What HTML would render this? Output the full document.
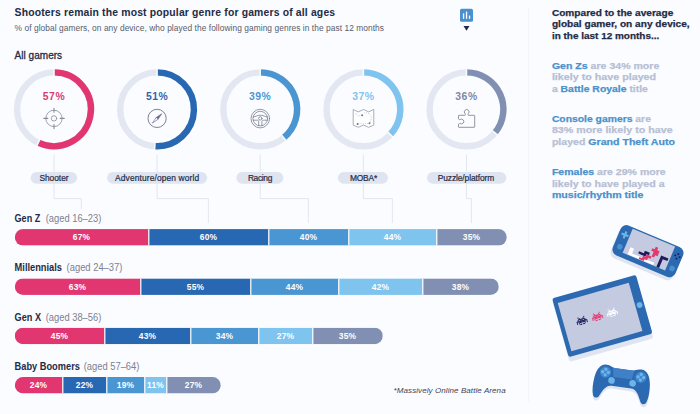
<!DOCTYPE html><html><head><meta charset="utf-8"><title>Gaming genres</title>
<style>html,body{margin:0;padding:0;background:#fbfcff;}body{width:700px;height:414px;overflow:hidden;font-family:"Liberation Sans",sans-serif;}svg{display:block;font-family:"Liberation Sans",sans-serif;}</style></head><body>
<svg width="700" height="414" viewBox="0 0 700 414">
<rect width="700" height="414" fill="#fbfcff"/>
<line x1="528.5" y1="7" x2="528.5" y2="402" stroke="#f3f5fb" stroke-width="1.5"/>
<text x="14.6" y="15.5" font-size="10.4" font-weight="bold" fill="#232b45" textLength="320.5" lengthAdjust="spacing">Shooters remain the most popular genre for gamers of all ages</text>
<text x="14.6" y="30.5" font-size="8.4" fill="#565c6c" textLength="369.4" lengthAdjust="spacing">% of global gamers, on any device, who played the following gaming genres in the past 12 months</text>
<text x="14.6" y="59.3" font-size="10" fill="#232b45" stroke="#232b45" stroke-width="0.3" textLength="47.5" lengthAdjust="spacing">All gamers</text>
<rect x="460" y="8.8" width="13" height="13" rx="1.6" fill="#4a90cf"/>
<rect x="462.9" y="13.4" width="1.3" height="5.4" fill="#fff"/><rect x="465.9" y="11.6" width="1.3" height="7.2" fill="#fff"/><rect x="468.9" y="15.6" width="1.3" height="3.2" fill="#fff"/>
<path d="M463.5 26 L469.5 26 L466.5 30.8 Z" fill="#232b45"/>
<circle cx="54.0" cy="109.3" r="36.9" fill="none" stroke="#e2e7f2" stroke-width="6.4"/>
<path d="M54.00 72.40 A36.9 36.9 0 1 1 38.29 142.69" fill="none" stroke="#e23670" stroke-width="6.4"/>
<line x1="54.00" y1="76.00" x2="54.00" y2="68.80" stroke="#fafbfe" stroke-width="1.5"/>
<line x1="39.82" y1="139.43" x2="36.76" y2="145.95" stroke="#fafbfe" stroke-width="1.5"/>
<text x="54.0" y="100.3" font-size="10.4" font-weight="bold" fill="#d93a70" text-anchor="middle" letter-spacing="0.5">57%</text>
<path d="M54.0 154.7 V198.6 H81.4 V209" fill="none" stroke="#e0e3ec" stroke-width="0.9"/>
<rect x="30.6" y="172.0" width="46.5" height="11.7" rx="5.85" fill="#dfe4f1"/>
<text x="39.4" y="181.0" font-size="8.4" fill="#232b45" stroke="#232b45" stroke-width="0.2" textLength="29.2" lengthAdjust="spacing">Shooter</text>
<circle cx="157.1" cy="109.3" r="36.9" fill="none" stroke="#e2e7f2" stroke-width="6.4"/>
<path d="M157.10 72.40 A36.9 36.9 0 1 1 154.78 146.13" fill="none" stroke="#2868b2" stroke-width="6.4"/>
<line x1="157.10" y1="76.00" x2="157.10" y2="68.80" stroke="#fafbfe" stroke-width="1.5"/>
<line x1="155.01" y1="142.53" x2="154.56" y2="149.72" stroke="#fafbfe" stroke-width="1.5"/>
<text x="157.1" y="100.3" font-size="10.4" font-weight="bold" fill="#2b66ad" text-anchor="middle" letter-spacing="0.5">51%</text>
<path d="M157.1 154.7 V198.6 H208.4 V223" fill="none" stroke="#e0e3ec" stroke-width="0.9"/>
<rect x="107.1" y="172.0" width="100.0" height="11.7" rx="5.85" fill="#dfe4f1"/>
<text x="115.1" y="181.0" font-size="8.4" fill="#232b45" stroke="#232b45" stroke-width="0.2" textLength="84.0" lengthAdjust="spacing">Adventure/open world</text>
<circle cx="260.2" cy="109.3" r="36.9" fill="none" stroke="#e2e7f2" stroke-width="6.4"/>
<path d="M260.20 72.40 A36.9 36.9 0 0 1 283.72 137.73" fill="none" stroke="#4a96d2" stroke-width="6.4"/>
<line x1="260.20" y1="76.00" x2="260.20" y2="68.80" stroke="#fafbfe" stroke-width="1.5"/>
<line x1="281.43" y1="134.96" x2="286.02" y2="140.51" stroke="#fafbfe" stroke-width="1.5"/>
<text x="260.2" y="100.3" font-size="10.4" font-weight="bold" fill="#4a96d2" text-anchor="middle" letter-spacing="0.5">39%</text>
<path d="M260.2 154.7 V198.6 H308.4 V223" fill="none" stroke="#e0e3ec" stroke-width="0.9"/>
<rect x="236.3" y="172.0" width="47.1" height="11.7" rx="5.85" fill="#dfe4f1"/>
<text x="247.9" y="181.0" font-size="8.4" fill="#232b45" stroke="#232b45" stroke-width="0.2" textLength="24.4" lengthAdjust="spacing">Racing</text>
<circle cx="363.4" cy="109.3" r="36.9" fill="none" stroke="#e2e7f2" stroke-width="6.4"/>
<path d="M363.40 72.40 A36.9 36.9 0 0 1 390.30 134.56" fill="none" stroke="#7ec4ef" stroke-width="6.4"/>
<line x1="363.40" y1="76.00" x2="363.40" y2="68.80" stroke="#fafbfe" stroke-width="1.5"/>
<line x1="387.67" y1="132.10" x2="392.92" y2="137.02" stroke="#fafbfe" stroke-width="1.5"/>
<text x="363.4" y="100.3" font-size="10.4" font-weight="bold" fill="#7ec4ef" text-anchor="middle" letter-spacing="0.5">37%</text>
<path d="M363.4 154.7 V198.6 H392.4 V223" fill="none" stroke="#e0e3ec" stroke-width="0.9"/>
<rect x="337.9" y="172.0" width="50.1" height="11.7" rx="5.85" fill="#dfe4f1"/>
<text x="349.9" y="181.0" font-size="8.4" fill="#232b45" stroke="#232b45" stroke-width="0.2" textLength="27.4" lengthAdjust="spacing">MOBA*</text>
<circle cx="466.5" cy="109.3" r="36.9" fill="none" stroke="#e2e7f2" stroke-width="6.4"/>
<path d="M466.50 72.40 A36.9 36.9 0 0 1 494.93 132.82" fill="none" stroke="#8190b2" stroke-width="6.4"/>
<line x1="466.50" y1="76.00" x2="466.50" y2="68.80" stroke="#fafbfe" stroke-width="1.5"/>
<line x1="492.16" y1="130.53" x2="497.71" y2="135.12" stroke="#fafbfe" stroke-width="1.5"/>
<text x="466.5" y="100.3" font-size="10.4" font-weight="bold" fill="#7d88a6" text-anchor="middle" letter-spacing="0.5">36%</text>
<path d="M466.5 154.7 V198.6 H471.4 V223" fill="none" stroke="#e0e3ec" stroke-width="0.9"/>
<rect x="427.0" y="172.0" width="79.3" height="11.7" rx="5.85" fill="#dfe4f1"/>
<text x="437.7" y="181.0" font-size="8.4" fill="#232b45" stroke="#232b45" stroke-width="0.2" textLength="56.6" lengthAdjust="spacing">Puzzle/platform</text>
<g fill="none" stroke="#858a96" stroke-width="0.8" stroke-linecap="round">
<circle cx="54.0" cy="118.4" r="8.2"/><circle cx="54.0" cy="118.4" r="2.7"/>
<path d="M54.0 108.2 V112.2 M54.0 124.60000000000001 V128.6 M43.8 118.4 H47.8 M60.2 118.4 H64.2" stroke-width="1.1"/>
</g>
<circle cx="157.1" cy="118.4" r="9.1" fill="none" stroke="#6d7288" stroke-width="0.9"/>
<g transform="translate(157.1 118.4) rotate(45)">
<path d="M0 -6.7 L1.3 0 L-1.3 0 Z" fill="#62678a" stroke="#62678a" stroke-width="0.5" stroke-linejoin="round"/>
<path d="M0 6.7 L1.3 0 L-1.3 0 Z" fill="#fff" stroke="#62678a" stroke-width="0.6" stroke-linejoin="round"/>
</g>
<g transform="translate(260.3 118.6)" fill="none" stroke="#7b8092" stroke-width="0.8" stroke-linecap="round" stroke-linejoin="round">
<circle r="9.3"/><circle r="7.3"/><circle r="1.7" cy="-0.2"/>
<path d="M-7.1 -1.6 C-4.5 -1.9 -3 -3.4 0 -3.4 C3 -3.4 4.5 -1.9 7.1 -1.6"/>
<path d="M-7.1 1.6 H-3 C-2 1.6 -1.6 2.2 -1.6 3.2 V7.1 M7.1 1.6 H3 C2 1.6 1.6 2.2 1.6 3.2 V7.1"/>
</g>
<g fill="none" stroke="#9a9fae" stroke-width="0.85" stroke-linejoin="round">
<path d="M353.2 109.5 L358.3 111.9 L363.6 109.5 L368.7 111.9 L373.8 109.4 V125.1 L368.7 127.3 L363.6 125.1 L358.3 127.3 L353.2 125.1 Z" fill="#fff"/>
<path d="M355.6 113 L357.8 116 L362 115.4 M364.4 112.8 C368 112.6 371.6 114.5 371.3 118.5 C371.2 120.5 370.3 122 369.5 123.2 M358 124 L369 123.4" stroke="#9096a8" stroke-width="0.6" stroke-dasharray="0.7 1.1"/>
</g>
<circle cx="362.2" cy="115.3" r="0.95" fill="#6f7486"/><circle cx="357.6" cy="124" r="0.95" fill="#6f7486"/><circle cx="369.5" cy="123.3" r="0.95" fill="#6f7486"/>
<path d="M458.9 115.3 H464.9 C465.6 115.3 465.5 114.3 465.1 113.6 A2.35 2.35 0 1 1 468.3 113.6 C467.9 114.3 467.8 115.3 468.5 115.3 H474.3 Q474.7 115.3 474.7 115.7 V126.9 Q474.7 127.3 474.3 127.3 H458.9 Q458.5 127.3 458.5 126.9 V124.4 C458.5 123.6 459.4 123.4 460.1 123.5 A2.4 2.4 0 1 0 460.1 119.5 C459.4 119.7 458.5 119.5 458.5 118.7 V115.7 Q458.5 115.3 458.9 115.3 Z" fill="none" stroke="#8a8f9b" stroke-width="0.95" stroke-linejoin="round"/>
<text x="14.6" y="221.9" font-size="10.2" font-weight="bold" fill="#232b45" textLength="25.6" lengthAdjust="spacingAndGlyphs">Gen Z</text>
<text x="45.7" y="221.9" font-size="10.2" fill="#7b8190" textLength="55.6" lengthAdjust="spacingAndGlyphs">(aged 16–23)</text>
<clipPath id="c0"><rect x="14.8" y="229.1" width="492" height="16.5" rx="8.25"/></clipPath>
<g clip-path="url(#c0)">
<rect x="14.8" y="229.1" width="134" height="16.5" fill="#e23670"/>
<rect x="148.8" y="229.1" width="120" height="16.5" fill="#2868b2"/>
<rect x="268.8" y="229.1" width="80" height="16.5" fill="#4a96d2"/>
<rect x="348.8" y="229.1" width="88" height="16.5" fill="#7ec4ef"/>
<rect x="436.8" y="229.1" width="70" height="16.5" fill="#8190b2"/>
<rect x="148.2" y="229.1" width="1.2" height="16.5" fill="#fff"/>
<rect x="268.2" y="229.1" width="1.2" height="16.5" fill="#fff"/>
<rect x="348.2" y="229.1" width="1.2" height="16.5" fill="#fff"/>
<rect x="436.2" y="229.1" width="1.2" height="16.5" fill="#fff"/>
</g>
<text x="81.5" y="240.3" font-size="8.4" font-weight="bold" fill="#fff" text-anchor="middle" letter-spacing="0.25">67%</text>
<text x="208.5" y="240.3" font-size="8.4" font-weight="bold" fill="#fff" text-anchor="middle" letter-spacing="0.25">60%</text>
<text x="308.5" y="240.3" font-size="8.4" font-weight="bold" fill="#fff" text-anchor="middle" letter-spacing="0.25">40%</text>
<text x="392.5" y="240.3" font-size="8.4" font-weight="bold" fill="#fff" text-anchor="middle" letter-spacing="0.25">44%</text>
<text x="471.5" y="240.3" font-size="8.4" font-weight="bold" fill="#fff" text-anchor="middle" letter-spacing="0.25">35%</text>
<text x="14.6" y="271.2" font-size="10.2" font-weight="bold" fill="#232b45" textLength="47.4" lengthAdjust="spacingAndGlyphs">Millennials</text>
<text x="66.6" y="271.2" font-size="10.2" fill="#7b8190" textLength="55.8" lengthAdjust="spacingAndGlyphs">(aged 24–37)</text>
<clipPath id="c1"><rect x="14.8" y="278.4" width="484" height="16.5" rx="8.25"/></clipPath>
<g clip-path="url(#c1)">
<rect x="14.8" y="278.4" width="126" height="16.5" fill="#e23670"/>
<rect x="140.8" y="278.4" width="110" height="16.5" fill="#2868b2"/>
<rect x="250.8" y="278.4" width="88" height="16.5" fill="#4a96d2"/>
<rect x="338.8" y="278.4" width="84" height="16.5" fill="#7ec4ef"/>
<rect x="422.8" y="278.4" width="76" height="16.5" fill="#8190b2"/>
<rect x="140.2" y="278.4" width="1.2" height="16.5" fill="#fff"/>
<rect x="250.2" y="278.4" width="1.2" height="16.5" fill="#fff"/>
<rect x="338.2" y="278.4" width="1.2" height="16.5" fill="#fff"/>
<rect x="422.2" y="278.4" width="1.2" height="16.5" fill="#fff"/>
</g>
<text x="77.5" y="289.6" font-size="8.4" font-weight="bold" fill="#fff" text-anchor="middle" letter-spacing="0.25">63%</text>
<text x="195.5" y="289.6" font-size="8.4" font-weight="bold" fill="#fff" text-anchor="middle" letter-spacing="0.25">55%</text>
<text x="294.5" y="289.6" font-size="8.4" font-weight="bold" fill="#fff" text-anchor="middle" letter-spacing="0.25">44%</text>
<text x="380.5" y="289.6" font-size="8.4" font-weight="bold" fill="#fff" text-anchor="middle" letter-spacing="0.25">42%</text>
<text x="460.5" y="289.6" font-size="8.4" font-weight="bold" fill="#fff" text-anchor="middle" letter-spacing="0.25">38%</text>
<text x="14.6" y="320.5" font-size="10.2" font-weight="bold" fill="#232b45" textLength="26.4" lengthAdjust="spacingAndGlyphs">Gen X</text>
<text x="45.7" y="320.5" font-size="10.2" fill="#7b8190" textLength="55.6" lengthAdjust="spacingAndGlyphs">(aged 38–56)</text>
<clipPath id="c2"><rect x="14.8" y="327.7" width="368" height="16.5" rx="8.25"/></clipPath>
<g clip-path="url(#c2)">
<rect x="14.8" y="327.7" width="90" height="16.5" fill="#e23670"/>
<rect x="104.8" y="327.7" width="86" height="16.5" fill="#2868b2"/>
<rect x="190.8" y="327.7" width="68" height="16.5" fill="#4a96d2"/>
<rect x="258.8" y="327.7" width="54" height="16.5" fill="#7ec4ef"/>
<rect x="312.8" y="327.7" width="70" height="16.5" fill="#8190b2"/>
<rect x="104.2" y="327.7" width="1.2" height="16.5" fill="#fff"/>
<rect x="190.2" y="327.7" width="1.2" height="16.5" fill="#fff"/>
<rect x="258.2" y="327.7" width="1.2" height="16.5" fill="#fff"/>
<rect x="312.2" y="327.7" width="1.2" height="16.5" fill="#fff"/>
</g>
<text x="59.5" y="338.9" font-size="8.4" font-weight="bold" fill="#fff" text-anchor="middle" letter-spacing="0.25">45%</text>
<text x="147.5" y="338.9" font-size="8.4" font-weight="bold" fill="#fff" text-anchor="middle" letter-spacing="0.25">43%</text>
<text x="224.5" y="338.9" font-size="8.4" font-weight="bold" fill="#fff" text-anchor="middle" letter-spacing="0.25">34%</text>
<text x="285.5" y="338.9" font-size="8.4" font-weight="bold" fill="#fff" text-anchor="middle" letter-spacing="0.25">27%</text>
<text x="347.5" y="338.9" font-size="8.4" font-weight="bold" fill="#fff" text-anchor="middle" letter-spacing="0.25">35%</text>
<text x="14.6" y="369.8" font-size="10.2" font-weight="bold" fill="#232b45" textLength="65.3" lengthAdjust="spacingAndGlyphs">Baby Boomers</text>
<text x="83.7" y="369.8" font-size="10.2" fill="#7b8190" textLength="55.7" lengthAdjust="spacingAndGlyphs">(aged 57–64)</text>
<clipPath id="c3"><rect x="14.8" y="377.0" width="206" height="16.5" rx="8.25"/></clipPath>
<g clip-path="url(#c3)">
<rect x="14.8" y="377.0" width="48" height="16.5" fill="#e23670"/>
<rect x="62.8" y="377.0" width="44" height="16.5" fill="#2868b2"/>
<rect x="106.8" y="377.0" width="38" height="16.5" fill="#4a96d2"/>
<rect x="144.8" y="377.0" width="22" height="16.5" fill="#7ec4ef"/>
<rect x="166.8" y="377.0" width="54" height="16.5" fill="#8190b2"/>
<rect x="62.2" y="377.0" width="1.2" height="16.5" fill="#fff"/>
<rect x="106.2" y="377.0" width="1.2" height="16.5" fill="#fff"/>
<rect x="144.2" y="377.0" width="1.2" height="16.5" fill="#fff"/>
<rect x="166.2" y="377.0" width="1.2" height="16.5" fill="#fff"/>
</g>
<text x="38.5" y="388.2" font-size="8.4" font-weight="bold" fill="#fff" text-anchor="middle" letter-spacing="0.25">24%</text>
<text x="84.5" y="388.2" font-size="8.4" font-weight="bold" fill="#fff" text-anchor="middle" letter-spacing="0.25">22%</text>
<text x="125.5" y="388.2" font-size="8.4" font-weight="bold" fill="#fff" text-anchor="middle" letter-spacing="0.25">19%</text>
<text x="155.5" y="388.2" font-size="8.4" font-weight="bold" fill="#fff" text-anchor="middle" letter-spacing="0.25">11%</text>
<text x="193.5" y="388.2" font-size="8.4" font-weight="bold" fill="#fff" text-anchor="middle" letter-spacing="0.25">27%</text>
<text x="393.6" y="392.6" font-size="8" font-style="italic" fill="#3d4356" textLength="112" lengthAdjust="spacing">*Massively Online Battle Arena</text>
<text x="551.9" y="15.5" font-size="9.8" font-weight="bold" textLength="121.4" lengthAdjust="spacingAndGlyphs" xml:space="preserve"><tspan fill="#232b45" stroke="#232b45" stroke-width="0.25">Compared to the average</tspan></text>
<text x="551.9" y="27.2" font-size="9.8" font-weight="bold" textLength="137.8" lengthAdjust="spacingAndGlyphs" xml:space="preserve"><tspan fill="#232b45" stroke="#232b45" stroke-width="0.25">global gamer, on any device,</tspan></text>
<text x="551.9" y="38.8" font-size="9.8" font-weight="bold" textLength="107.4" lengthAdjust="spacingAndGlyphs" xml:space="preserve"><tspan fill="#232b45" stroke="#232b45" stroke-width="0.25">in the last 12 months...</tspan></text>
<text x="551.9" y="68.8" font-size="9.5" font-weight="bold" textLength="107.4" lengthAdjust="spacingAndGlyphs" xml:space="preserve"><tspan fill="#4b91cb" stroke="#4b91cb" stroke-width="0.25">Gen Zs</tspan><tspan fill="#b7bfd4" stroke="#b7bfd4" stroke-width="0.25"> are 34% more</tspan></text>
<text x="551.9" y="80.4" font-size="9.5" font-weight="bold" textLength="104.2" lengthAdjust="spacingAndGlyphs" xml:space="preserve"><tspan fill="#b7bfd4" stroke="#b7bfd4" stroke-width="0.25">likely to have played</tspan></text>
<text x="551.9" y="91.9" font-size="9.5" font-weight="bold" textLength="96.0" lengthAdjust="spacingAndGlyphs" xml:space="preserve"><tspan fill="#b7bfd4" stroke="#b7bfd4" stroke-width="0.25">a </tspan><tspan fill="#4b91cb" stroke="#4b91cb" stroke-width="0.25">Battle Royale</tspan><tspan fill="#b7bfd4" stroke="#b7bfd4" stroke-width="0.25"> title</tspan></text>
<text x="551.9" y="121.6" font-size="9.5" font-weight="bold" textLength="99.0" lengthAdjust="spacingAndGlyphs" xml:space="preserve"><tspan fill="#4b91cb" stroke="#4b91cb" stroke-width="0.25">Console gamers</tspan><tspan fill="#b7bfd4" stroke="#b7bfd4" stroke-width="0.25"> are</tspan></text>
<text x="551.9" y="133.4" font-size="9.5" font-weight="bold" textLength="120.7" lengthAdjust="spacingAndGlyphs" xml:space="preserve"><tspan fill="#b7bfd4" stroke="#b7bfd4" stroke-width="0.25">83% more likely to have</tspan></text>
<text x="551.9" y="145.1" font-size="9.5" font-weight="bold" textLength="123.0" lengthAdjust="spacingAndGlyphs" xml:space="preserve"><tspan fill="#b7bfd4" stroke="#b7bfd4" stroke-width="0.25">played </tspan><tspan fill="#4b91cb" stroke="#4b91cb" stroke-width="0.25">Grand Theft Auto</tspan></text>
<text x="551.9" y="174.9" font-size="9.5" font-weight="bold" textLength="113.8" lengthAdjust="spacingAndGlyphs" xml:space="preserve"><tspan fill="#4b91cb" stroke="#4b91cb" stroke-width="0.25">Females</tspan><tspan fill="#b7bfd4" stroke="#b7bfd4" stroke-width="0.25"> are 29% more</tspan></text>
<text x="551.9" y="186.6" font-size="9.5" font-weight="bold" textLength="112.7" lengthAdjust="spacingAndGlyphs" xml:space="preserve"><tspan fill="#b7bfd4" stroke="#b7bfd4" stroke-width="0.25">likely to have played a</tspan></text>
<text x="551.9" y="198.3" font-size="9.5" font-weight="bold" textLength="91.6" lengthAdjust="spacingAndGlyphs" xml:space="preserve"><tspan fill="#4b91cb" stroke="#4b91cb" stroke-width="0.25">music/rhythm title</tspan></text>
<g transform="translate(648 251.2) rotate(22.8)">
<rect x="-34.6" y="-12.7" width="67.8" height="32.4" rx="6.5" fill="#dfe4f1"/>
<rect x="-33.9" y="-16.2" width="67.8" height="32.4" rx="6.5" fill="#2b69b1"/>
<rect x="-22.8" y="-14.8" width="46" height="26" fill="#c4cae0"/>
<path d="M-28.6 -9.8 h2.2 v2.6 h2.6 v2.2 h-2.6 v2.6 h-2.2 v-2.6 h-2.6 v-2.2 h2.6 z" fill="#6db4e8"/>
<circle cx="-27.7" cy="6.8" r="2.8" fill="#4a8fd0"/>
<circle cx="28.9" cy="6.6" r="2.8" fill="#4a8fd0"/>
<g fill="#1d1b5a"><circle cx="29.1" cy="-9.1" r="0.95"/><circle cx="29.1" cy="-4.3" r="0.95"/><circle cx="26.7" cy="-6.7" r="0.95"/><circle cx="31.5" cy="-6.7" r="0.95"/></g>
<g transform="translate(-22.8 -14.8)">
<path d="M5.2 18 h3.8 v5 h24 v2.6 h-27.8 z" fill="#fff"/>
<path d="M14.6 18.2 h5.2 v-2.6 h5.4 v2.6 h-2.7 v2.6 h-5.2 v-0.2 h-2.7 z" fill="#1d1b5a"/>
<path d="M20 20.8 h2.7 v-2.6 h5.4 v2.6 h-2.7 v2.7 h-2.7 v2.1 h-5.4 v-2.1 h2.7 z" fill="#e23a6e"/>
<path d="M28.2 7.6 h2.7 v2.7 h2.6 v5.4 h-2.6 v2.6 h-2.7 v-5.3 h-2.6 v-2.7 h2.6 z" fill="#e23a6e"/>
<path d="M36.6 13.6 h7.9 v2.8 h-5 v9.6 h-2.9 z" fill="#1d1b5a"/>
</g>
</g>
<g transform="translate(602.3 316) rotate(-15.8)">
<rect x="-44" y="-25.7" width="87.1" height="61" rx="2.5" fill="#dfe4f1"/>
<rect x="-43.55" y="-30.5" width="87.1" height="61" rx="2.5" fill="#2b69b1"/>
<rect x="-39.3" y="-24.7" width="73.8" height="50.1" fill="#c4cae0"/>
<circle cx="38.9" cy="-0.5" r="2.9" fill="#6db4e8"/>
<g transform="translate(-26.5 -5.2)" fill="#1d1b5a"><rect x="2" y="0" width="1" height="1.05"/><rect x="8" y="0" width="1" height="1.05"/><rect x="3" y="1" width="1" height="1.05"/><rect x="7" y="1" width="1" height="1.05"/><rect x="2" y="2" width="7" height="1.05"/><rect x="1" y="3" width="2" height="1.05"/><rect x="4" y="3" width="3" height="1.05"/><rect x="8" y="3" width="2" height="1.05"/><rect x="0" y="4" width="11" height="1.05"/><rect x="0" y="5" width="1" height="1.05"/><rect x="2" y="5" width="7" height="1.05"/><rect x="10" y="5" width="1" height="1.05"/><rect x="0" y="6" width="1" height="1.05"/><rect x="2" y="6" width="1" height="1.05"/><rect x="8" y="6" width="1" height="1.05"/><rect x="10" y="6" width="1" height="1.05"/><rect x="3" y="7" width="2" height="1.05"/><rect x="6" y="7" width="2" height="1.05"/></g>
<g transform="translate(-10.5 -4.8)" fill="#e23a6e"><rect x="2" y="0" width="1" height="1.05"/><rect x="8" y="0" width="1" height="1.05"/><rect x="3" y="1" width="1" height="1.05"/><rect x="7" y="1" width="1" height="1.05"/><rect x="2" y="2" width="7" height="1.05"/><rect x="1" y="3" width="2" height="1.05"/><rect x="4" y="3" width="3" height="1.05"/><rect x="8" y="3" width="2" height="1.05"/><rect x="0" y="4" width="11" height="1.05"/><rect x="0" y="5" width="1" height="1.05"/><rect x="2" y="5" width="7" height="1.05"/><rect x="10" y="5" width="1" height="1.05"/><rect x="0" y="6" width="1" height="1.05"/><rect x="2" y="6" width="1" height="1.05"/><rect x="8" y="6" width="1" height="1.05"/><rect x="10" y="6" width="1" height="1.05"/><rect x="3" y="7" width="2" height="1.05"/><rect x="6" y="7" width="2" height="1.05"/></g>
<g transform="translate(4.800000000000001 -4.8)" fill="#fff"><rect x="2" y="0" width="1" height="1.05"/><rect x="8" y="0" width="1" height="1.05"/><rect x="3" y="1" width="1" height="1.05"/><rect x="7" y="1" width="1" height="1.05"/><rect x="2" y="2" width="7" height="1.05"/><rect x="1" y="3" width="2" height="1.05"/><rect x="4" y="3" width="3" height="1.05"/><rect x="8" y="3" width="2" height="1.05"/><rect x="0" y="4" width="11" height="1.05"/><rect x="0" y="5" width="1" height="1.05"/><rect x="2" y="5" width="7" height="1.05"/><rect x="10" y="5" width="1" height="1.05"/><rect x="0" y="6" width="1" height="1.05"/><rect x="2" y="6" width="1" height="1.05"/><rect x="8" y="6" width="1" height="1.05"/><rect x="10" y="6" width="1" height="1.05"/><rect x="3" y="7" width="2" height="1.05"/><rect x="6" y="7" width="2" height="1.05"/></g>
</g>
<g transform="translate(621.7 384.2) rotate(8)">
<path d="M-17.5 -17.3 C-13 -17.3 -11 -15 -8 -15 L8 -15 C11 -15 13 -17.3 17.5 -17.3 C24 -17.3 27 -11 28 -3 C28.8 4 28.5 10 27 14.5 C26 17.6 22.5 17.6 21 15 C18.5 10 16 3 10 3 L-10 3 C-16 3 -18.5 10 -21 15 C-22.5 17.6 -26 17.6 -27 14.5 C-28.5 10 -28.8 4 -28 -3 C-27 -11 -24 -17.3 -17.5 -17.3 Z" fill="#dfe4f1" transform="translate(0.4 2.8)"/>
<path d="M-17.5 -17.3 C-13 -17.3 -11 -15 -8 -15 L8 -15 C11 -15 13 -17.3 17.5 -17.3 C24 -17.3 27 -11 28 -3 C28.8 4 28.5 10 27 14.5 C26 17.6 22.5 17.6 21 15 C18.5 10 16 3 10 3 L-10 3 C-16 3 -18.5 10 -21 15 C-22.5 17.6 -26 17.6 -27 14.5 C-28.5 10 -28.8 4 -28 -3 C-27 -11 -24 -17.3 -17.5 -17.3 Z" fill="#2b69b1"/>
<path d="M-10.8 -15 H10.8 L9.3 -6 H-9.3 Z" fill="#3f80c6"/>
<circle cx="-17.7" cy="-9.7" r="5.6" fill="#3f86cd"/><circle cx="18" cy="-9.5" r="5.6" fill="#3f86cd"/>
<circle cx="-17.7" cy="-12.5" r="1.7" fill="#6db4e8"/>
<circle cx="-17.7" cy="-6.8999999999999995" r="1.7" fill="#6db4e8"/>
<circle cx="-20.5" cy="-9.7" r="1.7" fill="#6db4e8"/>
<circle cx="-14.899999999999999" cy="-9.7" r="1.7" fill="#6db4e8"/>
<circle cx="18" cy="-12.3" r="1.7" fill="#6db4e8"/>
<circle cx="18" cy="-6.7" r="1.7" fill="#6db4e8"/>
<circle cx="15.2" cy="-9.5" r="1.7" fill="#6db4e8"/>
<circle cx="20.8" cy="-9.5" r="1.7" fill="#6db4e8"/>
<circle cx="-10.6" cy="-2.3" r="3.3" fill="#6db4e8"/><circle cx="10.7" cy="-2.4" r="3.3" fill="#6db4e8"/>
</g>
</svg></body></html>
